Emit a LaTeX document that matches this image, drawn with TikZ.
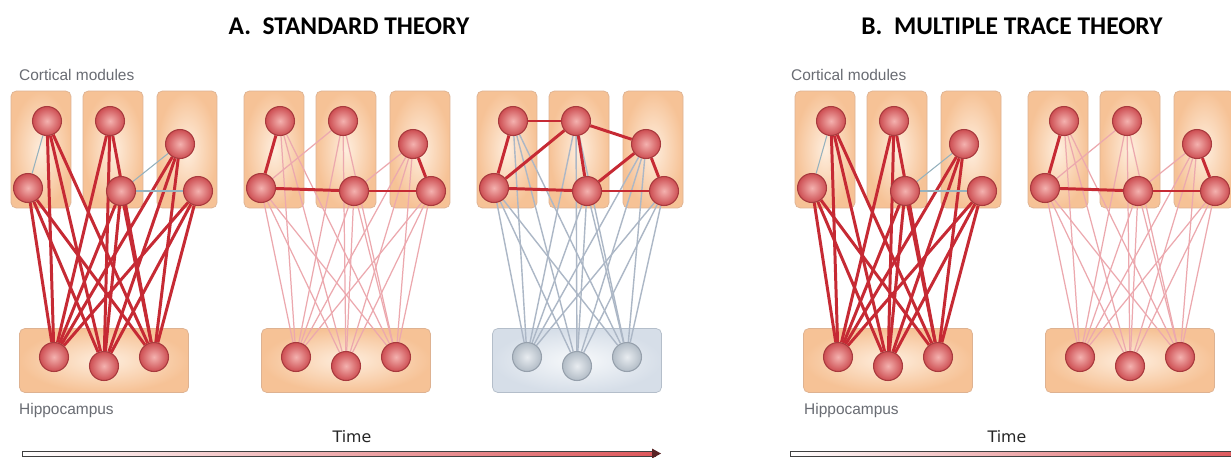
\documentclass[tikz,border=0pt]{standalone}
\usepackage{fontspec}
\setmainfont{Liberation Sans}
\newfontfamily\titlefont{Carlito}
\newfontfamily\timefont{DejaVu Sans}
\definecolor{modin}{RGB}{254,238,222}
\definecolor{modout}{RGB}{246,194,150}
\definecolor{modedge}{RGB}{222,178,145}
\definecolor{hipin}{RGB}{247,249,251}
\definecolor{hipout}{RGB}{214,222,232}
\definecolor{hipedge}{RGB}{180,190,202}
\definecolor{cellin}{RGB}{244,178,175}
\definecolor{cellout}{RGB}{205,78,82}
\definecolor{celledge}{RGB}{168,58,62}
\definecolor{grayin}{RGB}{232,236,240}
\definecolor{grayout}{RGB}{178,188,198}
\definecolor{cellgrayedge}{RGB}{150,160,172}
\definecolor{linkred}{RGB}{198,42,52}
\definecolor{linkpink}{RGB}{236,168,174}
\definecolor{linkgray}{RGB}{172,183,198}
\definecolor{linkblue}{RGB}{150,178,190}
\definecolor{timetan}{RGB}{210,168,148}
\definecolor{timered}{RGB}{222,88,92}
\definecolor{areagray}{RGB}{105,108,115}
\pgfdeclarelayer{boxes}
\pgfdeclarelayer{links}
\pgfsetlayers{boxes,links,main}
\tikzset{modbox/.style={draw=modedge, rounded corners=3pt, inner color=modin,
   outer color=modout, minimum width=1.2cm, minimum height=2.34cm},
 hipbox/.style={draw=modedge, rounded corners=3pt, inner color=modin,
   outer color=modout, minimum width=3.38cm, minimum height=1.28cm},
 grayhip/.style={hipbox, draw=hipedge, inner color=hipin, outer color=hipout},
 redcell/.style={circle, inner sep=0pt, minimum size=0.58cm, draw=celledge,
   line width=0.6pt, inner color=cellin, outer color=cellout},
 graycell/.style={redcell, draw=cellgrayedge, inner color=grayin, outer color=grayout},
 redlink/.style={draw=linkred, line width=1.7pt},
 pinklink/.style={draw=linkpink, line width=0.7pt},
 graylink/.style={draw=linkgray, line width=0.8pt},
 bluelink/.style={draw=linkblue, line width=0.6pt},
 areatext/.style={anchor=west, text=areagray, font=\fontsize{8.8}{10}\selectfont},
 headtext/.style={font=\titlefont\bfseries\fontsize{14.5}{16}\selectfont},
 timetext/.style={font=\timefont\fontsize{9}{10}\selectfont, text=black!85},
 }

\begin{document}
\begin{tikzpicture}[x=0.02cm, y=-0.02cm]
    \useasboundingbox (0,0) rectangle (1231,457);
    \begin{pgfonlayer}{boxes}
        \fill[white] (0,0) rectangle (1231,457);
        \foreach \g/\dx/\hx/\hb in {a1/0/104/hipbox, a2/233/346/hipbox, a3/466/577/grayhip,
                                    b1/784/888/hipbox, b2/1017/1130/hipbox} {
            \foreach \x[count=\i] in {41, 113, 187}
                \node[modbox] (m\i\g) at (\dx+\x, 149.5) {};
            \node[\hb] (hip\g) at (\hx, 360.5) {};
        }
    \end{pgfonlayer}

    \foreach \g/\dx/\hx/\hc in {a1/0/104/redcell, a2/233/346/redcell, a3/466/577/graycell,
                                b1/784/888/redcell, b2/1017/1130/redcell} {
        \foreach \x/\y[count=\i] in {47/121, 28/188, 110/121, 121/191, 180/144, 198/191}
            \node[redcell] (c\i\g) at (\dx+\x, \y) {};
        \foreach \x/\y[count=\j] in {-50/357, 0/366, 50/357}
            \node[\hc] (h\j\g) at (\hx+\x, \y) {};
    }

    \begin{pgfonlayer}{links}
        \foreach \g/\lk in {a1/redlink, a2/pinklink, a3/graylink, b1/redlink, b2/pinklink}
            \foreach \i in {1,...,6}
                \foreach \j in {1,2,3}
                    \draw[\lk] (c\i\g) -- (h\j\g);
        \foreach \g in {a1, b1}
            \foreach \p/\q in {1/2, 4/5, 4/6}
                \draw[bluelink] (c\p\g) -- (c\q\g);
        \foreach \g in {a2, b2} {
            \foreach \p/\q in {2/3, 4/5}
                \draw[pinklink] (c\p\g) -- (c\q\g);
            \foreach \p/\q in {1/2, 2/4, 4/6, 5/6}
                \draw[redlink] (c\p\g) -- (c\q\g);
        }
        \foreach \p/\q in {1/2, 1/3, 2/3, 2/4, 3/4, 3/5, 4/5, 4/6, 5/6}
            \draw[redlink] (c\p a3) -- (c\q a3);
    \end{pgfonlayer}

    \node[headtext] (headA) at (349,26) {A.~~STANDARD THEORY};
    \node[headtext] (headB) at (1012,26) {B.~~MULTIPLE TRACE THEORY};
    \node[areatext] (cortA) at (13,75) {Cortical modules};
    \node[areatext] (cortB) at (785,75) {Cortical modules};
    \node[areatext] (hipA) at (13,410) {Hippocampus};
    \node[areatext] (hipB) at (798,410) {Hippocampus};
    \node[timetext] (timeA) at (352,437) {Time};
    \node[timetext] (timeB) at (1007,437) {Time};

    \foreach \a/\b in {22/655, 790/1240} {
        \shade[left color=white, middle color=timetan, right color=timered] (\a,451) rectangle (\b,456);
        \draw[black!75, line width=0.5pt] (\a,451) rectangle (\b,456);
        \fill[black!60!timered] (\b-3,448.5) -- (\b+6,453.5) -- (\b-3,458.5) -- cycle;
    }
\end{tikzpicture}
\end{document}
